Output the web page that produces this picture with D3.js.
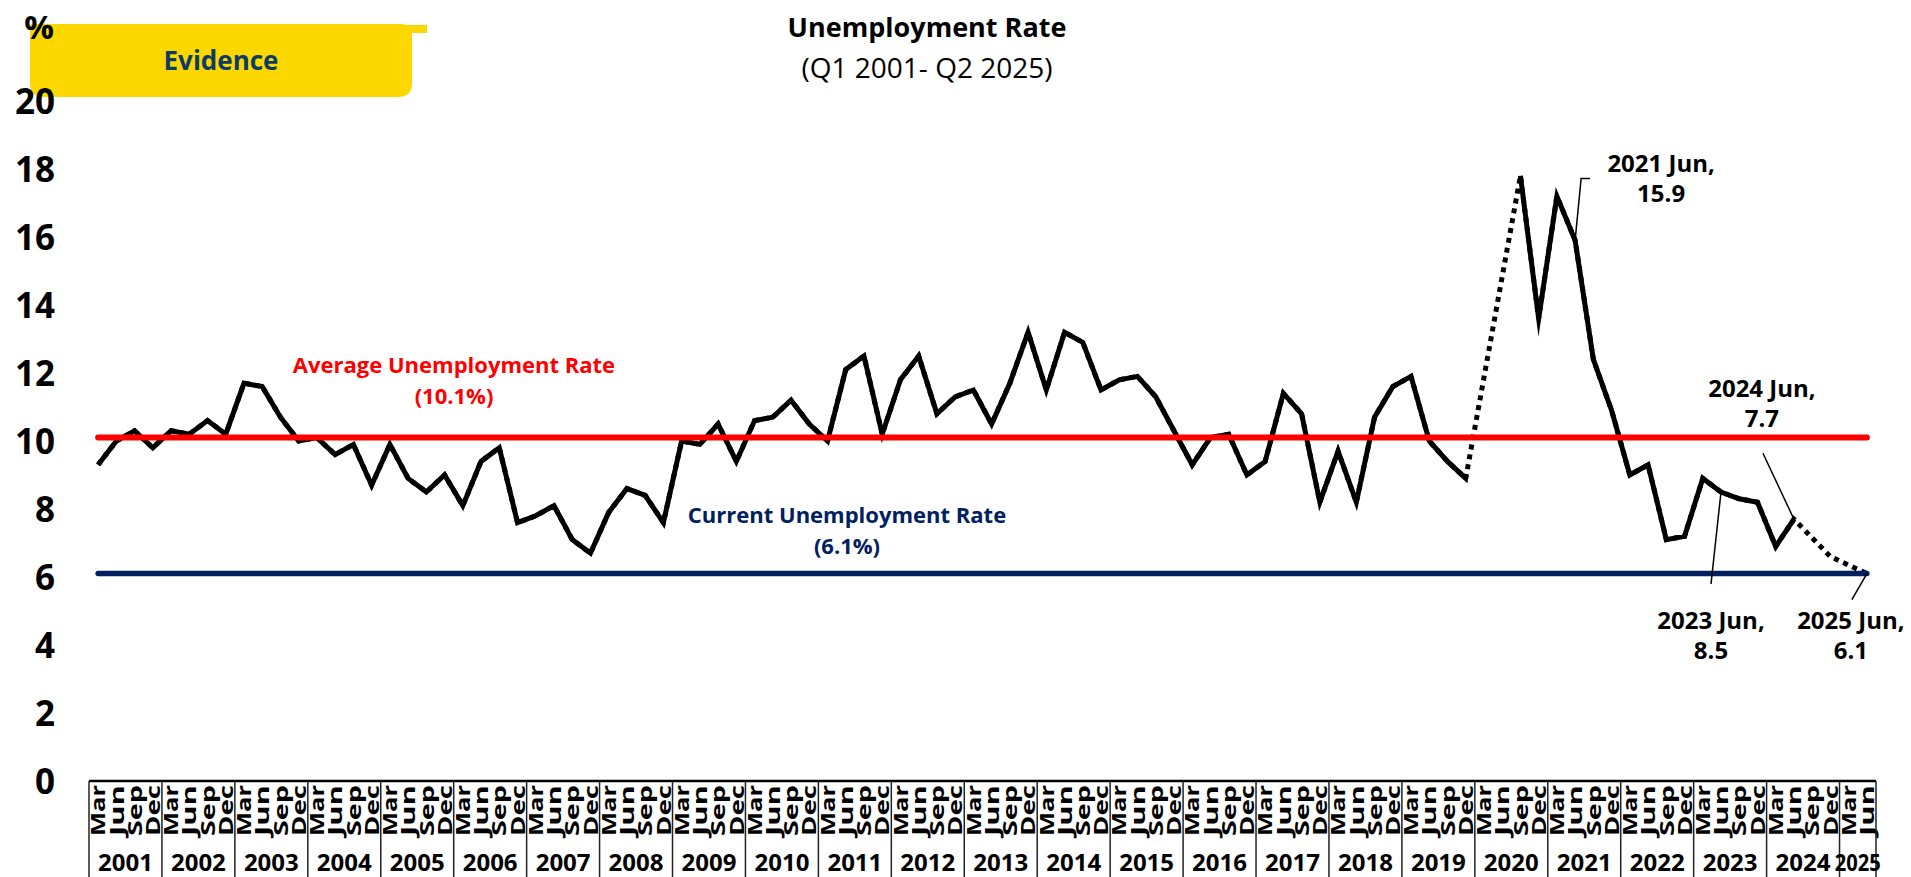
<!DOCTYPE html>
<html>
<head>
<meta charset="utf-8">
<script src="https://cdn.jsdelivr.net/npm/d3@7"></script>
<style>
  body { margin: 0; background: #fff; }
  svg text { font-family: "Open Sans", "Noto Sans", sans-serif; font-weight: bold; }
</style>
</head>
<body>
<div id="chart"></div>
<script>
// quarterly unemployment rate, Mar 2001 .. Jun 2025 (null = no survey)
var years = [2001, 2002, 2003, 2004, 2005, 2006, 2007, 2008, 2009, 2010, 2011, 2012, 2013,
             2014, 2015, 2016, 2017, 2018, 2019, 2020, 2021, 2022, 2023, 2024, 2025];
var quarters = ["Mar", "Jun", "Sep", "Dec"];
var rate = [
  9.3, 10.0, 10.3, 9.8,     // 2001
  10.3, 10.2, 10.6, 10.2,   // 2002
  11.7, 11.6, 10.7, 10.0,   // 2003
  10.1, 9.6, 9.9, 8.7,      // 2004
  9.9, 8.9, 8.5, 9.0,       // 2005
  8.1, 9.4, 9.8, 7.6,       // 2006
  7.8, 8.1, 7.1, 6.7,       // 2007
  7.9, 8.6, 8.4, 7.6,       // 2008
  10.0, 9.9, 10.5, 9.4,     // 2009
  10.6, 10.7, 11.2, 10.5,   // 2010
  10.0, 12.1, 12.5, 10.2,   // 2011
  11.8, 12.5, 10.8, 11.3,   // 2012
  11.5, 10.5, 11.7, 13.2,   // 2013
  11.5, 13.2, 12.9, 11.5,   // 2014
  11.8, 11.9, 11.3, 10.3,   // 2015
  9.3, 10.1, 10.2, 9.0,     // 2016
  9.4, 11.4, 10.8, 8.2,     // 2017
  9.7, 8.2, 10.7, 11.6,     // 2018
  11.9, 10.0, 9.4, 8.9,     // 2019
  null, null, 17.8, 13.6,   // 2020
  17.2, 15.9, 12.4, 10.9,   // 2021
  9.0, 9.3, 7.1, 7.2,       // 2022
  8.9, 8.5, 8.3, 8.2,       // 2023
  6.9, 7.7, null, 6.6,      // 2024
  null, 6.1                 // 2025
];
var avgRate = 10.1;
var currentRate = 6.1;
var yTicks = [0, 2, 4, 6, 8, 10, 12, 14, 16, 18, 20];
var noteIdx = [81, 93, 89, 97];
var noteText = ["2021 Jun,", "2024 Jun,", "2023 Jun,", "2025 Jun,"];

var W = 1911, H = 877;
var cats = [];
years.forEach(function(yr) {
  quarters.forEach(function(q) { cats.push(yr + " " + q); });
});
cats = cats.slice(0, rate.length);
var pts = rate.map(function(v, i) { return { c: cats[i], v: v }; });

var svg = d3.select("#chart").append("svg")
  .attr("width", W).attr("height", H)
  .style("display", "block");

var x = d3.scaleBand().domain(cats).range([89, 1876]).padding(0);
var y = d3.scaleLinear().domain([0, 20]).range([781, 101]);
var cx = function(c) { return x(c) + x.bandwidth() / 2; };

// title
svg.append("text").attr("x", 927).attr("y", 37).attr("text-anchor", "middle")
  .style("font-size", "27px").text("Unemployment Rate");
svg.append("text").attr("x", 927).attr("y", 78).attr("text-anchor", "middle")
  .style("font-size", "28px").style("font-weight", "normal").text("(Q1 2001- Q2 2025)");

// "Evidence" tab
svg.append("path")
  .attr("d", "M33,24 H400 Q412,24 412,36 V83 Q412,97 398,97 H44 Q30,97 30,83 V27 Q30,24 33,24 Z")
  .attr("fill", "#fdd800");
svg.append("rect").attr("x", 400).attr("y", 25).attr("width", 27).attr("height", 8).attr("fill", "#fdd800");
svg.append("text").attr("x", 221).attr("y", 70).attr("text-anchor", "middle")
  .attr("fill", "#0e3b66").style("font-size", "26px").text("Evidence");

// y axis
var yAxis = d3.axisLeft(y).tickValues(yTicks).tickSize(0).tickPadding(0);
var gy = svg.append("g").attr("transform", "translate(55,0)").call(yAxis);
gy.select(".domain").remove();
gy.selectAll("text").style("font-size", "35px").attr("fill", "#000").attr("dy", "0.36em");
svg.append("text").attr("x", 39).attr("y", 39).attr("text-anchor", "middle")
  .style("font-size", "33px").text("%");

// x axis table: quarters rotated, years below
var xAxis = d3.axisBottom(x).tickSize(0).tickFormat(function(d) { return d.split(" ")[1]; });
var gx = svg.append("g").attr("transform", "translate(0,781)").call(xAxis);
gx.select(".domain").remove();
gx.selectAll("text")
  .attr("transform", "rotate(-90)")
  .attr("x", -4).attr("y", 0).attr("dy", "0.36em")
  .attr("text-anchor", "end")
  .attr("fill", "#000")
  .attr("textLength", 51).attr("lengthAdjust", "spacingAndGlyphs")
  .style("font-size", "20px");

svg.append("line").attr("x1", 89).attr("x2", 1876).attr("y1", 781).attr("y2", 781)
  .attr("stroke", "#000").attr("stroke-width", 2.5);

var yearSpan = years.map(function(yr) {
  var cs = cats.filter(function(c) { return c.indexOf(yr + " ") === 0; });
  return { yr: yr, x0: x(cs[0]), x1: x(cs[cs.length - 1]) + x.bandwidth() };
});
svg.selectAll(".ysep").data(yearSpan).enter().append("line")
  .attr("x1", function(d) { return d.x0; }).attr("x2", function(d) { return d.x0; })
  .attr("y1", 781).attr("y2", H)
  .attr("stroke", "#222").attr("stroke-width", 1.5);
svg.append("line").attr("x1", 1876).attr("x2", 1876).attr("y1", 781).attr("y2", H)
  .attr("stroke", "#222").attr("stroke-width", 1.5);
svg.selectAll(".ylab").data(yearSpan).enter().append("text")
  .attr("x", function(d) { return (d.x0 + d.x1) / 2; })
  .attr("y", 871).attr("text-anchor", "middle")
  .style("font-size", "24px")
  .each(function(d) {
    if (d.x1 - d.x0 < 50) d3.select(this).attr("textLength", 46).attr("lengthAdjust", "spacingAndGlyphs");
  })
  .text(function(d) { return d.yr; });

// series: dotted bridge across missing quarters, solid where consecutive
var line = d3.line()
  .defined(function(d) { return d.v != null; })
  .x(function(d) { return cx(d.c); })
  .y(function(d) { return y(d.v); });

svg.append("path").datum(pts.filter(function(d) { return d.v != null; }))
  .attr("d", line).attr("fill", "none").attr("stroke", "#000")
  .attr("stroke-width", 5).attr("stroke-dasharray", "5,5");
svg.append("path").datum(pts)
  .attr("d", line).attr("fill", "none").attr("stroke", "#000")
  .attr("stroke-width", 5).attr("stroke-linejoin", "miter").attr("stroke-miterlimit", 10);

// average and current reference lines
var xa = cx(cats[0]), xb = cx(cats[cats.length - 1]);
svg.append("line").attr("x1", xa).attr("x2", xb).attr("y1", y(avgRate)).attr("y2", y(avgRate))
  .attr("stroke", "#ff0000").attr("stroke-width", 6).attr("stroke-linecap", "round");
svg.append("line").attr("x1", xa).attr("x2", xb).attr("y1", y(currentRate)).attr("y2", y(currentRate))
  .attr("stroke", "#002060").attr("stroke-width", 5.5).attr("stroke-linecap", "round");

svg.append("text").attr("x", 454).attr("y", y(avgRate) - 65).attr("text-anchor", "middle")
  .attr("fill", "#ff0000").style("font-size", "22px").text("Average Unemployment Rate");
svg.append("text").attr("x", 454).attr("y", y(avgRate) - 34).attr("text-anchor", "middle")
  .attr("fill", "#ff0000").style("font-size", "22px").text("(" + avgRate.toFixed(1) + "%)");
svg.append("text").attr("x", 847).attr("y", y(currentRate) - 51).attr("text-anchor", "middle")
  .attr("fill", "#002060").style("font-size", "22px").text("Current Unemployment Rate");
svg.append("text").attr("x", 847).attr("y", y(currentRate) - 20).attr("text-anchor", "middle")
  .attr("fill", "#002060").style("font-size", "22px").text("(" + currentRate.toFixed(1) + "%)");

// callouts (label offsets relative to the point)
var noteLayout = [
  { leader: [[6, -62], [15, -62]], lx: 86, ly: -68 },
  { leader: [[-31, -66]], lx: -32, ly: -122 },
  { leader: [[-10, 92]], lx: -10, ly: 137 },
  { leader: [[-15, 26]], lx: -16, ly: 55 }
];
noteIdx.forEach(function(i, k) {
  var px = cx(cats[i]), py = y(rate[i]), L = noteLayout[k];
  var path = d3.path();
  path.moveTo(px, py);
  L.leader.forEach(function(o) { path.lineTo(px + o[0], py + o[1]); });
  svg.append("path").attr("d", path.toString()).attr("fill", "none")
    .attr("stroke", "#000").attr("stroke-width", 1.5);
  svg.append("text").attr("x", px + L.lx).attr("y", py + L.ly).attr("text-anchor", "middle")
    .style("font-size", "24px").text(noteText[k]);
  svg.append("text").attr("x", px + L.lx).attr("y", py + L.ly + 30).attr("text-anchor", "middle")
    .style("font-size", "24px").text(rate[i].toFixed(1));
});
</script>
</body>
</html>
